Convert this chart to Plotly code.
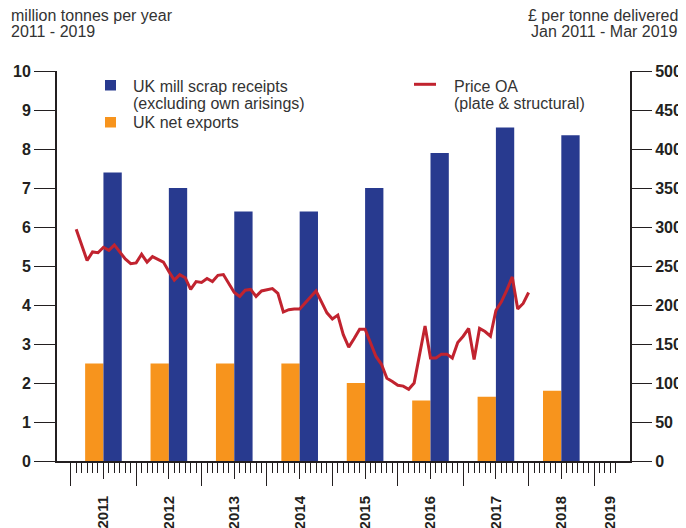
import plotly.graph_objects as go

# annual volumes, million tonnes
years = [2011, 2012, 2013, 2014, 2015, 2016, 2017, 2018]
mill_receipts = [7.4, 7.0, 6.4, 6.4, 7.0, 7.9, 8.55, 8.35]
net_exports = [2.5, 2.5, 2.5, 2.5, 2.0, 1.55, 1.65, 1.8]

# monthly price OA (plate & structural), £/t, Jan 2011 - Dec 2017
price_2011 = [297, 277, 257, 268, 267, 274, 270, 277, 268, 259, 253, 254]
price_2012 = [265, 255, 262, 259, 255, 243, 232, 239, 235, 220, 230, 229]
price_2013 = [234, 230, 238, 239, 228, 216, 211, 219, 220, 211, 218, 220]
price_2014 = [221, 215, 191, 194, 195, 195, 203, 211, 218, 204, 190, 182]
price_2015 = [187, 162, 146, 157, 169, 169, 151, 134, 124, 106, 102, 97]
price_2016 = [96, 92, 100, 138, 173, 132, 132, 137, 137, 132, 152, 160]
price_2017 = [170, 130, 170, 166, 160, 193, 204, 219, 236, 195, 202, 216]
price_oa = price_2011 + price_2012 + price_2013 + price_2014 + price_2015 + price_2016 + price_2017

year_labels = ['2011', '2012', '2013', '2014', '2015', '2016', '2017', '2018', '2019']

BLUE = '#283a8f'
ORANGE = '#f7941d'
RED = '#c1232f'
INK = '#231f20'
TEXT = '#333333'
FONT = 'Liberation Sans, Arial, sans-serif'

# the page puts the figure 8px in from the top-left corner
OFF = 8
W, H = 686 - OFF, 528 - OFF
ML, MR, MT, MB = 57 - OFF, 56, 71 - OFF, 67
PW, PH = W - ML - MR, H - MT - MB
XR = [2010.79, 2019.55]


def px_x(p):
    # p in window pixels -> paper coords
    return (p - OFF - ML) / PW


def px_y(p):
    return (H - MB - (p - OFF)) / PH


bar_x = [y + 0.5 for y in years]
month_x = [2011 + (i + 1) / 12 for i in range(len(price_oa))]

fig = go.Figure()
fig.add_trace(go.Bar(x=bar_x, y=net_exports, width=0.28, offset=-0.28,
                     marker=dict(color=ORANGE, line=dict(width=0)),
                     name='UK net exports', showlegend=False))
fig.add_trace(go.Bar(x=bar_x, y=mill_receipts, width=0.28, offset=0,
                     marker=dict(color=BLUE, line=dict(width=0)),
                     name='UK mill scrap receipts', showlegend=False))
fig.add_trace(go.Scatter(x=month_x, y=price_oa, yaxis='y2', mode='lines',
                         line=dict(color=RED, width=3), name='Price OA',
                         showlegend=False))
# empty traces so the overlay tick axes are drawn
fig.add_trace(go.Scatter(x=[], y=[], xaxis='x3', showlegend=False, hoverinfo='skip'))
fig.add_trace(go.Scatter(x=[], y=[], xaxis='x4', showlegend=False, hoverinfo='skip'))

month_ticks = [2011 + k / 12 for k in range(8 * 12 + 5)]
mid_ticks = [y + 0.5 for y in years]
label_ticks = mid_ticks + [2019.25]

fig.update_layout(
    width=W, height=H,
    margin=dict(l=ML, r=MR, t=MT, b=MB),
    paper_bgcolor='white', plot_bgcolor='white',
    font=dict(family=FONT, color=TEXT, size=16),
    barmode='overlay',
    xaxis=dict(range=XR, showgrid=False, zeroline=False, automargin=False,
               showline=True, linecolor=INK, linewidth=2,
               tickmode='array', tickvals=list(range(2011, 2020)),
               ticks='outside', ticklen=23, tickwidth=1.3, tickcolor=INK,
               showticklabels=False,
               minor=dict(tickmode='array', tickvals=month_ticks, ticks='outside',
                          ticklen=10, tickwidth=1, tickcolor=INK, showgrid=False)),
    xaxis3=dict(range=XR, overlaying='x', anchor='y', side='bottom', automargin=False,
                showgrid=False, zeroline=False, showline=False,
                tickmode='array', tickvals=mid_ticks,
                ticks='outside', ticklen=17, tickwidth=1.3, tickcolor=INK,
                showticklabels=False),
    xaxis4=dict(range=XR, overlaying='x', anchor='y', side='bottom', automargin=False,
                showgrid=False, zeroline=False, showline=False,
                tickmode='array', tickvals=label_ticks, ticktext=year_labels,
                ticks='outside', ticklen=28, tickcolor='rgba(0,0,0,0)',
                tickangle=-90,
                tickfont=dict(family=FONT, size=15, color=INK, weight='bold')),
    yaxis=dict(range=[0, 10], dtick=1, showgrid=False, zeroline=False, automargin=False,
               showline=True, linecolor=INK, linewidth=2,
               ticks='outside', ticklen=21, tickwidth=1.3, tickcolor=INK,
               tickfont=dict(family=FONT, size=16, color=INK, weight='bold')),
    yaxis2=dict(range=[0, 500], dtick=50, overlaying='y', side='right', anchor='x',
                showgrid=False, zeroline=False, automargin=False,
                showline=True, linecolor=INK, linewidth=2,
                ticks='outside', ticklen=20, tickwidth=1.3, tickcolor=INK,
                tickfont=dict(family=FONT, size=16, color=INK, weight='bold')),
)

# hand-built legend
fig.add_shape(type='rect', xref='paper', yref='paper',
              x0=px_x(105), x1=px_x(116), y0=px_y(90.5), y1=px_y(80),
              fillcolor=BLUE, line=dict(width=0))
fig.add_shape(type='rect', xref='paper', yref='paper',
              x0=px_x(105), x1=px_x(116), y0=px_y(127.5), y1=px_y(117),
              fillcolor=ORANGE, line=dict(width=0))
fig.add_shape(type='line', xref='paper', yref='paper',
              x0=px_x(414), x1=px_x(436), y0=px_y(84.3), y1=px_y(84.3),
              line=dict(color=RED, width=3))

texts = [
    ('UK mill scrap receipts', 130.5, 86.5, 'left'),
    ('(excluding own arisings)', 130.5, 103, 'left'),
    ('UK net exports', 130.5, 122.5, 'left'),
    ('Price OA', 451.5, 86.5, 'left'),
    ('(plate & structural)', 451.5, 103, 'left'),
    ('million tonnes per year', 8.5, 15, 'left'),
    ('2011 - 2019', 8.5, 32, 'left'),
    ('£ per tonne delivered', 679.5, 15, 'right'),
    ('Jan 2011 - Mar 2019', 679.5, 32, 'right'),
]
for t, x, y, anchor in texts:
    fig.add_annotation(text=t, xref='paper', yref='paper',
                       x=px_x(x), y=px_y(y), xanchor=anchor, yanchor='middle',
                       showarrow=False, font=dict(family=FONT, size=16, color=TEXT))

fig.write_html("out.html")
